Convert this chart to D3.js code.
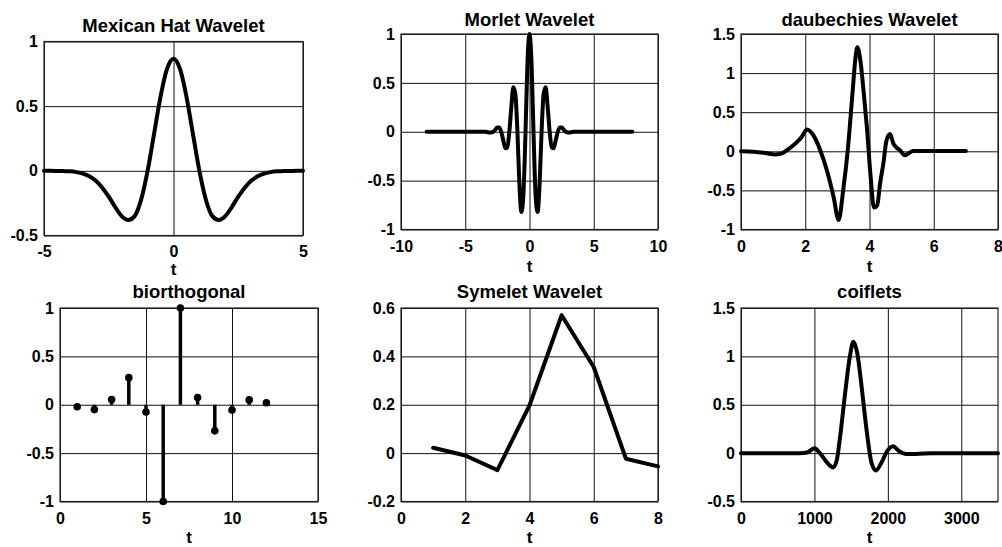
<!DOCTYPE html>
<html>
<head>
<meta charset="utf-8">
<script src="https://cdn.jsdelivr.net/npm/d3@7"></script>
<style>
  body { margin: 0; background: #fff; }
  text { font-family: "Liberation Sans", Arial, Helvetica, sans-serif; font-weight: bold; fill: #000; }
</style>
</head>
<body>
<div id="chart"></div>
<script>
// ---- data ----
const titles = ["Mexican Hat Wavelet", "Morlet Wavelet", "daubechies Wavelet", "biorthogonal", "Symelet Wavelet", "coiflets"];

const mexT = [-5, -4.75, -4.5, -4.25, -4, -3.75, -3.5, -3.25, -3, -2.75, -2.5, -2.25, -2, -1.75, -1.5, -1.25, -1, -0.75, -0.5, -0.25,
  0, 0.25, 0.5, 0.75, 1, 1.25, 1.5, 1.75, 2, 2.25, 2.5, 2.75, 3, 3.25, 3.5, 3.75, 4, 4.25, 4.5, 4.75, 5];
const mexV = [0, 0, -0.001, -0.002, -0.004, -0.010, -0.021, -0.042, -0.077, -0.130, -0.200, -0.280, -0.350, -0.380, -0.350, -0.223, 0, 0.286, 0.574, 0.788,
  0.867, 0.788, 0.574, 0.286, 0, -0.223, -0.350, -0.380, -0.350, -0.280, -0.200, -0.130, -0.077, -0.042, -0.021, -0.010, -0.004, -0.002, -0.001, 0, 0];

const morletT = [-8, -3.77, -3.61, -3.46, -3.30, -3.14, -2.98, -2.83, -2.67, -2.51, -2.36, -2.20, -2.04, -1.88, -1.73, -1.57, -1.41, -1.26, -1.10, -0.94, -0.79, -0.63, -0.47, -0.31, -0.16,
  0, 0.16, 0.31, 0.47, 0.63, 0.79, 0.94, 1.10, 1.26, 1.41, 1.57, 1.73, 1.88, 2.04, 2.20, 2.36, 2.51, 2.67, 2.83, 2.98, 3.14, 3.30, 3.46, 3.61, 3.77, 8];
const morletV = [0, 0.001, 0.001, 0, -0.003, -0.007, -0.008, 0, 0.020, 0.043, 0.044, 0, -0.088, -0.169, -0.159, 0, 0.260, 0.454, 0.386, 0, -0.519, -0.821, -0.633, 0, 0.698,
  1, 0.698, 0, -0.633, -0.821, -0.519, 0, 0.386, 0.454, 0.260, 0, -0.159, -0.169, -0.088, 0, 0.044, 0.043, 0.020, 0, -0.008, -0.007, -0.003, 0, 0.001, 0.001, 0];

const dbT = [0, 0.4, 0.8, 1.05, 1.25, 1.5, 1.75, 1.9, 2.05, 2.26, 2.47, 2.67, 2.88, 3.04, 3.18, 3.32, 3.47, 3.56, 3.62, 3.72, 3.82, 3.92, 4.03, 4.14,
  4.24, 4.33, 4.43, 4.53, 4.64, 4.74, 4.84, 4.95, 5.1, 5.2, 5.36, 6, 7];
const dbV = [0, -0.005, -0.025, -0.04, -0.03, 0.035, 0.12, 0.19, 0.28, 0.2, 0.01, -0.24, -0.58, -0.88, -0.5, 0, 0.74, 1.18, 1.33, 1.15, 0.75, 0.3, -0.3, -0.72,
  -0.69, -0.41, -0.16, 0.14, 0.22, 0.1, 0.047, 0.013, -0.05, -0.03, 0.004, 0.005, 0.005];

const bioT = [1, 2, 3, 4, 5, 6, 7, 8, 9, 10, 11, 12];
const bioV = [-0.02, -0.05, 0.055, 0.28, -0.075, -1, 1, 0.075, -0.27, -0.055, 0.05, 0.02];

const symT = [1, 2, 3, 4, 5, 6, 7, 8];
const symV = [0.022, -0.01, -0.07, 0.197, 0.57, 0.356, -0.023, -0.055];

const coifT = [0, 800, 900, 1000, 1080, 1170, 1255, 1305, 1350, 1418, 1485, 1530, 1584, 1642, 1710, 1777, 1836, 1912, 1988, 2069, 2159, 2249, 2384, 2600, 3500];
const coifV = [0, 0, 0.007, 0.05, -0.005, -0.096, -0.148, -0.07, 0.17, 0.62, 1.01, 1.15, 1.03, 0.69, 0.24, -0.1, -0.18, -0.1, 0.017, 0.07, 0.017, -0.01, -0.01, 0, 0];

// axis domains and tick values
const xDomains = [[-5, 5], [-10, 10], [0, 8], [0, 15], [0, 8], [0, 3500]];
const yDomains = [[-0.5, 1], [-1, 1], [-1, 1.5], [-1, 1], [-0.2, 0.6], [-0.5, 1.5]];
const xTicks = [[-5, 0, 5], [-10, -5, 0, 5, 10], [0, 2, 4, 6, 8], [0, 5, 10, 15], [0, 2, 4, 6, 8], [0, 1000, 2000, 3000]];
const yTicks = [[-0.5, 0, 0.5, 1], [-1, -0.5, 0, 0.5, 1], [-1, -0.5, 0, 0.5, 1, 1.5], [-1, -0.5, 0, 0.5, 1], [-0.2, 0, 0.2, 0.4, 0.6], [-0.5, 0, 0.5, 1, 1.5]];

// ---- layout (pixel boxes of each axes, title baseline, "t" baseline, x tick padding) ----
const boxes = [
  { x0: 44, x1: 303, y0: 41.5, y1: 235.5, ty: 31.5, ly: 275, pad: 10 },
  { x0: 401, x1: 658, y0: 34, y1: 229.5, ty: 25.5, ly: 272, pad: 11 },
  { x0: 741, x1: 998, y0: 34, y1: 229.5, ty: 25.5, ly: 272, pad: 11 },
  { x0: 60, x1: 318, y0: 308, y1: 501.5, ty: 297.5, ly: 543, pad: 11 },
  { x0: 401, x1: 658, y0: 308, y1: 501.5, ty: 297.5, ly: 543, pad: 11 },
  { x0: 741, x1: 998, y0: 308, y1: 501.5, ty: 297.5, ly: 543, pad: 11 }
];

const svg = d3.select("#chart").append("svg")
  .attr("width", 1002)
  .attr("height", 547);

const zip = (ts, vs) => ts.map((t, i) => ({ t: t, v: vs[i] }));

function panel(i) {
  const b = boxes[i];
  const x = d3.scaleLinear().domain(xDomains[i]).range([b.x0, b.x1]);
  const y = d3.scaleLinear().domain(yDomains[i]).range([b.y1, b.y0]);
  const g = svg.append("g");

  // grid + tick labels
  const gx = g.append("g")
    .attr("transform", `translate(0,${b.y1})`)
    .call(d3.axisBottom(x).tickValues(xTicks[i]).tickSize(-(b.y1 - b.y0)).tickPadding(b.pad).tickFormat(d => String(d)));
  const gy = g.append("g")
    .attr("transform", `translate(${b.x0},0)`)
    .call(d3.axisLeft(y).tickValues(yTicks[i]).tickSize(-(b.x1 - b.x0)).tickPadding(6).tickFormat(d => String(d)));
  [gx, gy].forEach(a => {
    a.select(".domain").remove();
    a.selectAll("line").attr("stroke", "#111").attr("stroke-width", 1);
    a.selectAll("text").style("font-size", "16px").style("font-weight", "bold").attr("fill", "#000");
  });

  g.append("rect")
    .attr("x", b.x0).attr("y", b.y0)
    .attr("width", b.x1 - b.x0).attr("height", b.y1 - b.y0)
    .attr("fill", "none").attr("stroke", "#222").attr("stroke-width", 1.2);

  g.append("text")
    .attr("x", (b.x0 + b.x1) / 2).attr("y", b.ty)
    .attr("text-anchor", "middle")
    .style("font-size", "18.5px")
    .text(titles[i]);

  g.append("text")
    .attr("x", (b.x0 + b.x1) / 2).attr("y", b.ly)
    .attr("text-anchor", "middle")
    .style("font-size", "17px")
    .text("t");

  return { g, x, y };
}

function curve(i, ts, vs, smooth) {
  const p = panel(i);
  const line = d3.line()
    .x(d => p.x(d.t))
    .y(d => p.y(d.v))
    .curve(smooth ? d3.curveMonotoneX : d3.curveLinear);
  p.g.append("path")
    .datum(zip(ts, vs))
    .attr("d", line)
    .attr("fill", "none")
    .attr("stroke", "#000")
    .attr("stroke-width", 4)
    .attr("stroke-linejoin", "round")
    .attr("stroke-linecap", "round");
}

curve(0, mexT, mexV, true);
curve(1, morletT, morletV, true);
curve(2, dbT, dbV, true);

// biorthogonal -> stem plot
const bp = panel(3);
const stems = zip(bioT, bioV);
bp.g.selectAll(".stem").data(stems).enter().append("line")
  .attr("x1", d => bp.x(d.t)).attr("x2", d => bp.x(d.t))
  .attr("y1", bp.y(0)).attr("y2", d => bp.y(d.v))
  .attr("stroke", "#000").attr("stroke-width", 3.5);
bp.g.selectAll(".dot").data(stems).enter().append("circle")
  .attr("cx", d => bp.x(d.t)).attr("cy", d => bp.y(d.v))
  .attr("r", 3.8).attr("fill", "#000");

curve(4, symT, symV, false);
curve(5, coifT, coifV, true);
</script>
</body>
</html>
